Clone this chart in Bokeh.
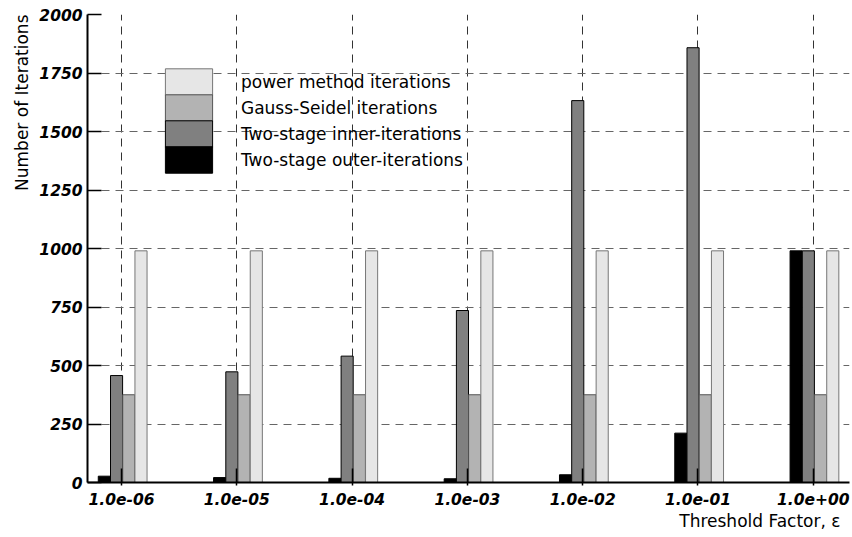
import math
from bokeh.plotting import figure
from bokeh.models import ColumnDataSource, FixedTicker, Legend, LegendItem, Title
from bokeh.transform import dodge
from bokeh.embed import file_html
from bokeh.resources import INLINE

# ---- data ----
thresholds = ["1.0e-06", "1.0e-05", "1.0e-04", "1.0e-03", "1.0e-02", "1.0e-01", "1.0e+00"]
outer_iters = [27, 21, 18, 16, 33, 211, 990]
inner_iters = [457, 473, 540, 735, 1632, 1858, 990]
gauss_seidel = [375, 375, 375, 375, 375, 375, 375]
power_method = [990, 990, 990, 990, 990, 990, 990]
y_ticks = [0, 250, 500, 750, 1000, 1250, 1500, 1750, 2000]
series_labels = ["power method iterations", "Gauss-Seidel iterations",
                 "Two-stage inner-iterations", "Two-stage outer-iterations"]

pos = list(range(len(thresholds)))
src = ColumnDataSource(dict(pos=pos, outer=outer_iters, inner=inner_iters,
                            gauss=gauss_seidel, power=power_method))

p = figure(width=852, height=537, x_range=(-0.295, 6.314), y_range=(0, 2000),
           output_backend="svg", toolbar_location=None,
           min_border_left=87, min_border_right=3, min_border_top=14, min_border_bottom=55)
p.outline_line_color = None
p.background_fill_color = "white"
p.border_fill_color = "white"

# grid
p.xgrid.grid_line_dash = "8 6"
p.xgrid.grid_line_color = "#333333"
p.ygrid.grid_line_dash = "8 6"
p.ygrid.grid_line_color = "#666666"

# axes
p.xaxis.ticker = FixedTicker(ticks=pos)
p.xaxis.major_label_overrides = {i: t for i, t in zip(pos, thresholds)}
p.yaxis.ticker = FixedTicker(ticks=y_ticks)
for ax in (p.xaxis[0], p.yaxis[0]):
    ax.axis_line_width = 2
    ax.axis_line_color = "black"
    ax.major_tick_line_width = 1.5
    ax.major_tick_line_color = "black"
    ax.minor_tick_line_color = None
    ax.major_label_text_font = "DejaVu Sans"
    ax.major_label_text_font_style = "bold italic"
    ax.major_label_text_font_size = "15.5px"
    ax.major_label_text_color = "black"
    ax.major_tick_in = 14
p.xaxis.major_tick_out = 3
p.yaxis.major_tick_out = 0
p.xaxis.major_label_standoff = 7
p.yaxis.major_label_standoff = 5

step = 0.106
w = 0.105
offs = [(k - 1.5) * step + 0.01 for k in range(4)]

r_outer = p.vbar(x=dodge("pos", offs[0]), top="outer", width=w, source=src,
                 fill_color="black", line_color="black", line_width=1)
r_inner = p.vbar(x=dodge("pos", offs[1]), top="inner", width=w, source=src,
                 fill_color="#808080", line_color="black", line_width=1)
r_gauss = p.vbar(x=dodge("pos", offs[2]), top="gauss", width=w, source=src,
                 fill_color="#b3b3b3", line_color="#555555", line_width=1)
r_power = p.vbar(x=dodge("pos", offs[3]), top="power", width=w, source=src,
                 fill_color="#e6e6e6", line_color="#777777", line_width=1)

# one legend per entry so the swatches stack without gaps
renderers = [r_power, r_gauss, r_inner, r_outer]
for i, (lab, r) in enumerate(zip(series_labels, renderers)):
    lg = Legend(items=[LegendItem(label=lab, renderers=[r])],
                location=(72, 306 + 26 * (3 - i)), glyph_width=59, glyph_height=33,
                label_height=33, spacing=0, label_standoff=23, padding=0, margin=0,
                border_line_alpha=0, background_fill_alpha=0,
                label_text_font="DejaVu Sans", label_text_font_size="17px",
                label_text_color="black")
    p.add_layout(lg)

xlab = Title(text="Threshold Factor, ε", align="right", text_font="DejaVu Sans",
             text_font_size="17px", text_font_style="normal", text_color="black",
             standoff=2, offset=9)
ylab = Title(text="Number of Iterations", align="right", text_font="DejaVu Sans",
             text_font_size="17px", text_font_style="normal", text_color="black")
p.add_layout(xlab, "below")
p.add_layout(ylab, "left")

open("out.html", "w").write(file_html(p, INLINE))
